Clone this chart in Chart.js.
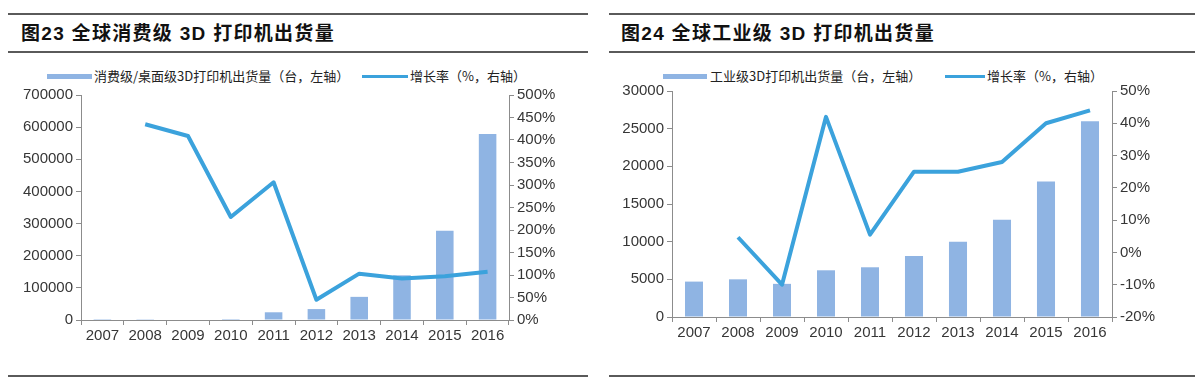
<!DOCTYPE html>
<html>
<head>
<meta charset="utf-8">
<script src="https://cdn.jsdelivr.net/npm/chart.js@4/dist/chart.umd.min.js"></script>
<style>
body { margin:0; width:1202px; height:389px; background:#fff; position:relative; overflow:hidden; font-family:'Noto Sans CJK SC', sans-serif; }
.rule { position:absolute; height:2px; background:#5a5a5a; }
.title { position:absolute; font-weight:bold; font-size:19px; line-height:24px; font-family:'Liberation Sans','Noto Sans CJK SC',sans-serif; color:#111; letter-spacing:1.3px; white-space:nowrap; }
.ltext { position:absolute; font-size:13px; line-height:16px; color:#222; white-space:nowrap; }
.swatch { position:absolute; }
canvas { position:absolute; }
</style>
</head>
<body>
<div class="rule" style="left:8px;width:580px;top:13px"></div>
<div class="rule" style="left:8px;width:580px;top:51px"></div>
<div class="rule" style="left:8px;width:580px;top:375px"></div>
<div class="rule" style="left:609px;width:586px;top:13px"></div>
<div class="rule" style="left:609px;width:586px;top:51px"></div>
<div class="rule" style="left:609px;width:586px;top:375px"></div>

<div class="title" style="left:21px;top:22px">图23 全球消费级 3D 打印机出货量</div>
<div class="title" style="left:621px;top:22px">图24 全球工业级 3D 打印机出货量</div>

<!-- legends -->
<div class="swatch" style="left:47px;top:74px;width:45px;height:5px;background:#8fb4e3"></div>
<div class="ltext" style="left:94px;top:68px">消费级/桌面级3D打印机出货量（台，左轴）</div>
<div class="swatch" style="left:362px;top:75px;width:46px;height:3px;background:#3ba2dc"></div>
<div class="ltext" style="left:410px;top:68px">增长率（%，右轴）</div>

<div class="swatch" style="left:663px;top:74px;width:44px;height:5px;background:#8fb4e3"></div>
<div class="ltext" style="left:710px;top:68px">工业级3D打印机出货量（台，左轴）</div>
<div class="swatch" style="left:945px;top:75px;width:40px;height:3px;background:#3ba2dc"></div>
<div class="ltext" style="left:987px;top:68px">增长率（%，右轴）</div>

<canvas id="consumer" width="600" height="267" style="left:0px;top:83px"></canvas>
<canvas id="industrial" width="602" height="268" style="left:600px;top:79px"></canvas>

<script>
// values
var years = ['2007', '2008', '2009', '2010', '2011', '2012', '2013', '2014', '2015', '2016'];
var consumerUnits = [300, 600, 1500, 3000, 24000, 34000, 72000, 139000, 278000, 579000];
var consumerGrowth = [null, 435, 409, 229, 306, 45, 103, 92, 97, 107];
var industrialUnits = [4700, 5000, 4400, 6200, 6600, 8100, 10000, 12900, 18000, 26000];
var industrialGrowth = [null, 4.7, -10, 42, 5.5, 25, 25, 28, 40, 44];

// axis ranges: min, max, step
var consumerUnitRange = [0, 700000, 100000];
var consumerRateRange = [0, 500, 50];
var industrialUnitRange = [0, 30000, 5000];
var industrialRateRange = [-20, 50, 10];

var BAR = '#8fb4e3';
var LINE = '#3ba2dc';
var AXIS = '#8c8c8c';
var TEXT = '#363636';
var tickFont = {family: "'Liberation Sans', Arial, sans-serif", size: 15};

function plain(v) { return String(v); }
function pct(v) { return v + '%'; }

//y axis with outward tick marks only
function yAxis(pos, range, width, fmt) {
	return {
		position: pos,
		min: range[0],
		max: range[1],
		ticks: {stepSize: range[2], color: TEXT, font: tickFont, padding: 3, callback: fmt},
		grid: {drawOnChartArea: false, drawTicks: true, tickLength: 5, color: AXIS},
		border: {color: AXIS, width: 1},
		afterFit: function (s) { s.width = width; }
	};
}

function makeChart(id, units, growth, unitRange, rateRange, leftW, rightW) {
	return new Chart(document.getElementById(id), {
		type: 'bar',
		data: {
			labels: years,
			datasets: [{
				type: 'line',
				data: growth,
				yAxisID: 'y1',
				borderColor: LINE,
				borderWidth: 4,
				pointRadius: 0,
				tension: 0,
				borderJoinStyle: 'round',
				order: 0
			}, {
				type: 'bar',
				data: units,
				yAxisID: 'y',
				backgroundColor: BAR,
				barPercentage: 0.41,
				categoryPercentage: 1,
				order: 1
			}]
		},
		options: {
			responsive: false,
			animation: false,
			layout: {padding: 0},
			plugins: {legend: {display: false}, tooltip: {enabled: false}},
			scales: {
				x: {
					ticks: {color: TEXT, font: tickFont, padding: 2, maxRotation: 0, autoSkip: false},
					grid: {offset: true, drawOnChartArea: false, drawTicks: true, tickLength: 5, color: AXIS},
					border: {color: AXIS, width: 1},
					afterFit: function (s) { s.height = 30; }
				},
				y: yAxis('left', unitRange, leftW, plain),
				y1: yAxis('right', rateRange, rightW, pct)
			}
		}
	});
}

makeChart('consumer', consumerUnits, consumerGrowth, consumerUnitRange, consumerRateRange, 81, 91);
makeChart('industrial', industrialUnits, industrialGrowth, industrialUnitRange, industrialRateRange, 72, 90);
</script>
</body>
</html>
